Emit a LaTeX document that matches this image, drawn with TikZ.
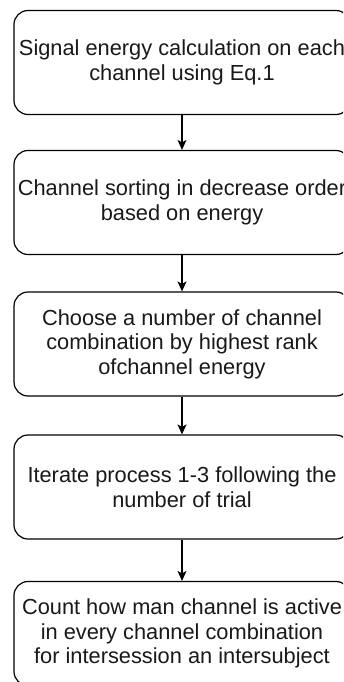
\documentclass[tikz,border=0pt]{standalone}
\usepackage{fontspec}
\setmainfont{Liberation Sans}
\usetikzlibrary{arrows.meta}
\tikzset{
  stepbox/.style={draw=black, line width=1.2pt, rounded corners=14pt, minimum width=336pt, minimum height=104pt, inner sep=0pt, fill=white},
  steptext/.style={align=center, inner sep=0pt, font=\fontsize{21.8}{24.5}\selectfont, text=black!90},
  flow/.style={draw=black, line width=1.2pt, -{Stealth[length=10pt,width=9pt,inset=2.5pt]}}
}
\begin{document}
\begin{tikzpicture}[x=1pt,y=-1pt]
\useasboundingbox (0,0) rectangle (343,682);
\clip (0,0) rectangle (343,682);
\fill[white] (0,0) rectangle (343,682);
\node[stepbox] (b1) at (182,62.5) {};
\node[stepbox] (b2) at (182,202.5) {};
\node[stepbox] (b3) at (182,344) {};
\node[stepbox] (b4) at (182,487) {};
\node[stepbox] (b5) at (182,633.5) {};
\node[steptext] (t1) at (b1.center) {Signal energy calculation on each\\channel using Eq.1};
\node[steptext] (t2) at (b2.center) {Channel sorting in decrease order\\based on energy};
\node[steptext] (t3) at (b3.center) {Choose a number of channel\\combination by highest rank\\ofchannel energy};
\node[steptext] (t4) at (b4.center) {Iterate process 1-3 following the\\number of trial};
\node[steptext] (t5) at (b5.center) {Count how man channel is active\\in every channel combination\\for intersession an intersubject};
\draw[flow] (b1.south) -- (b2.north);
\draw[flow] (b2.south) -- (b3.north);
\draw[flow] (b3.south) -- (b4.north);
\draw[flow] (b4.south) -- (b5.north);
\end{tikzpicture}
\end{document}
